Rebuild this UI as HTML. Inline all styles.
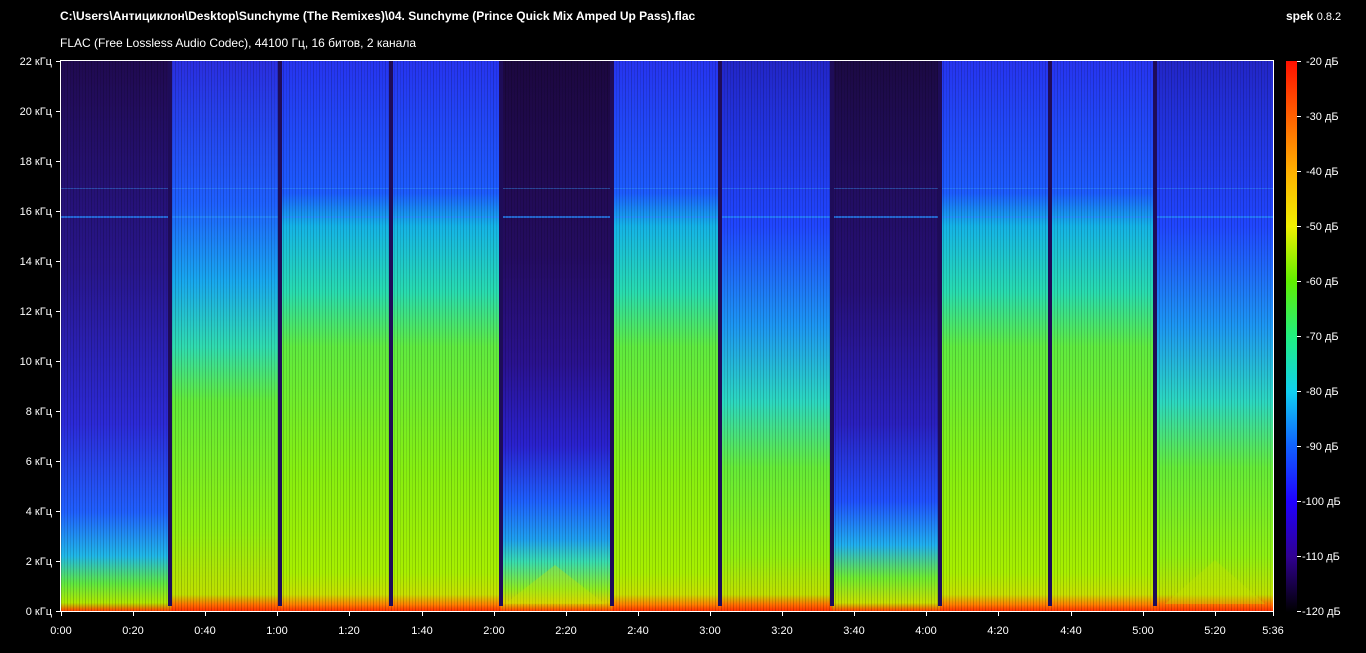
<!DOCTYPE html>
<html><head><meta charset="utf-8"><style>
body{margin:0;width:1366px;height:653px;background:#000;position:relative;overflow:hidden;font-family:"Liberation Sans",sans-serif;color:#fff}
.t{position:absolute;font-size:12px;white-space:nowrap}
.s{position:absolute;top:61px;height:550px}
.L{background:linear-gradient(#2634f0 0%,#1c5cff 24%,#14b4e8 30%,#28dcb0 42%,#60ec40 52%,#88f010 75%,#a8f000 93%,#c8e000 97%,#ff8000 98.8%,#ff3000 100%)}
.M{background:linear-gradient(#2226c8 0%,#2046ff 30%,#1c96f4 48%,#2cd8c0 62%,#66ec38 74%,#90f010 90%,#c0e000 97%,#ff7000 98.8%,#ff3000 100%)}
.Q{background:linear-gradient(#1c0840 0%,#240c60 35%,#2a1290 55%,#2a22d0 70%,#1e60ff 80%,#1ea0f0 87%,#38dcb0 91%,#90ec20 96%,#e0d000 98.5%,#ff4000 100%)}
.Q2{background:linear-gradient(#1c0a44 0%,#261078 42%,#2a20c0 66%,#2050ff 80%,#20b0f0 88%,#70ec30 94%,#c8e000 98.5%,#ff4000 100%)}
.S{background:linear-gradient(#200a50 0%,#28168c 38%,#2c2ad8 66%,#2060ff 82%,#20b8e8 90%,#60e840 95%,#b0e800 98.5%,#ff4000 100%)}
.B{background:linear-gradient(#2a2ee0 0%,#1e60ff 26%,#18a8f0 40%,#30dcb0 52%,#64ec38 62%,#90f010 85%,#c0e000 97%,#ff7000 98.8%,#ff3000 100%)}
.ov{position:absolute;left:61px;top:61px;width:1212px;height:550px;background:repeating-linear-gradient(90deg,rgba(0,0,0,.18) 0 1px,transparent 1px 3px,rgba(0,0,0,.1) 3px 4px,transparent 4px 6px)}
.d{position:absolute;top:61px;height:545px;width:4px;background:#1e0c58}
</style></head><body>
<div class="t" style="left:60px;top:9px;font-weight:bold">C:\Users\Антициклон\Desktop\Sunchyme (The Remixes)\04. Sunchyme (Prince Quick Mix Amped Up Pass).flac</div>
<div class="t" style="left:1286px;top:9px"><b>spek</b> <span style="font-size:11px">0.8.2</span></div>
<div class="t" style="left:60px;top:36px">FLAC (Free Lossless Audio Codec), 44100 Гц, 16 битов, 2 канала</div>

<div class="s S" style="left:61px;width:110px"></div>
<div class="s B" style="left:171px;width:109px"></div>
<div class="s L" style="left:280px;width:111px"></div>
<div class="s L" style="left:391px;width:110px"></div>
<div class="s Q" style="left:501px;width:111px"></div>
<div class="s L" style="left:612px;width:108px"></div>
<div class="s M" style="left:720px;width:112px"></div>
<div class="s Q2" style="left:832px;width:108px"></div>
<div class="s L" style="left:940px;width:110px"></div>
<div class="s L" style="left:1050px;width:105px"></div>
<div class="s M" style="left:1155px;width:118px"></div>
<div style="position:absolute;left:61px;top:216px;width:1212px;height:2px;background:rgba(40,140,255,.7)"></div>
<div style="position:absolute;left:61px;top:188px;width:1212px;height:1px;background:rgba(60,160,255,.4)"></div>
<div class="ov"></div>
<div class="d" style="left:168px"></div><div class="d" style="left:278px"></div><div class="d" style="left:389px"></div><div class="d" style="left:499px"></div><div class="d" style="left:610px"></div><div class="d" style="left:718px"></div><div class="d" style="left:830px"></div><div class="d" style="left:938px"></div><div class="d" style="left:1048px"></div><div class="d" style="left:1153px"></div>

<svg style="position:absolute;left:0;top:0" width="1366" height="653">
<polygon points="505,604 555,565 605,604" fill="rgba(200,230,0,.35)"/>
<polygon points="1165,604 1215,560 1265,604" fill="rgba(200,230,0,.3)"/>
<g stroke="#fff" stroke-width="1" fill="none">
<line x1="60.5" y1="61" x2="60.5" y2="612"/><line x1="60" y1="611.5" x2="1274" y2="611.5"/>
<line x1="1273.5" y1="61" x2="1273.5" y2="612"/><line x1="60" y1="60.5" x2="1274" y2="60.5"/>
</g>
<g stroke="#fff">
<line x1="56" y1="61.5" x2="60" y2="61.5"/><line x1="56" y1="111.5" x2="60" y2="111.5"/><line x1="56" y1="161.5" x2="60" y2="161.5"/><line x1="56" y1="211.5" x2="60" y2="211.5"/><line x1="56" y1="261.5" x2="60" y2="261.5"/><line x1="56" y1="311.5" x2="60" y2="311.5"/><line x1="56" y1="361.5" x2="60" y2="361.5"/><line x1="56" y1="411.5" x2="60" y2="411.5"/><line x1="56" y1="461.5" x2="60" y2="461.5"/><line x1="56" y1="511.5" x2="60" y2="511.5"/><line x1="56" y1="561.5" x2="60" y2="561.5"/><line x1="56" y1="611.5" x2="60" y2="611.5"/>
<line x1="61.5" y1="612" x2="61.5" y2="616"/><line x1="133.5" y1="612" x2="133.5" y2="616"/><line x1="205.5" y1="612" x2="205.5" y2="616"/><line x1="277.5" y1="612" x2="277.5" y2="616"/><line x1="349.5" y1="612" x2="349.5" y2="616"/><line x1="422.5" y1="612" x2="422.5" y2="616"/><line x1="494.5" y1="612" x2="494.5" y2="616"/><line x1="566.5" y1="612" x2="566.5" y2="616"/><line x1="638.5" y1="612" x2="638.5" y2="616"/><line x1="710.5" y1="612" x2="710.5" y2="616"/><line x1="782.5" y1="612" x2="782.5" y2="616"/><line x1="854.5" y1="612" x2="854.5" y2="616"/><line x1="926.5" y1="612" x2="926.5" y2="616"/><line x1="998.5" y1="612" x2="998.5" y2="616"/><line x1="1071.5" y1="612" x2="1071.5" y2="616"/><line x1="1143.5" y1="612" x2="1143.5" y2="616"/><line x1="1215.5" y1="612" x2="1215.5" y2="616"/><line x1="1273.5" y1="612" x2="1273.5" y2="616"/>
</g>
<g fill="#fff" font-family="Liberation Sans" font-size="11" text-anchor="end">
<text x="52" y="65">22 кГц</text><text x="52" y="115">20 кГц</text><text x="52" y="165">18 кГц</text><text x="52" y="215">16 кГц</text><text x="52" y="265">14 кГц</text><text x="52" y="315">12 кГц</text><text x="52" y="365">10 кГц</text><text x="52" y="415">8 кГц</text><text x="52" y="465">6 кГц</text><text x="52" y="515">4 кГц</text><text x="52" y="565">2 кГц</text><text x="52" y="615">0 кГц</text>
</g>
<g fill="#fff" font-family="Liberation Sans" font-size="11" text-anchor="middle">
<text x="61" y="634">0:00</text><text x="133" y="634">0:20</text><text x="205" y="634">0:40</text><text x="277" y="634">1:00</text><text x="349" y="634">1:20</text><text x="422" y="634">1:40</text><text x="494" y="634">2:00</text><text x="566" y="634">2:20</text><text x="638" y="634">2:40</text><text x="710" y="634">3:00</text><text x="782" y="634">3:20</text><text x="854" y="634">3:40</text><text x="926" y="634">4:00</text><text x="998" y="634">4:20</text><text x="1071" y="634">4:40</text><text x="1143" y="634">5:00</text><text x="1215" y="634">5:20</text><text x="1273" y="634">5:36</text>
</g>
<defs><linearGradient id="cb" x1="0" y1="0" x2="0" y2="1">
<stop offset="0" stop-color="#ff1000"/><stop offset="0.1" stop-color="#ff6000"/><stop offset="0.2" stop-color="#ffb000"/><stop offset="0.3" stop-color="#f0f000"/><stop offset="0.4" stop-color="#60f000"/><stop offset="0.5" stop-color="#20f080"/><stop offset="0.6" stop-color="#10d0f0"/><stop offset="0.7" stop-color="#1060ff"/><stop offset="0.8" stop-color="#2000ff"/><stop offset="0.9" stop-color="#300090"/><stop offset="1" stop-color="#000000"/>
</linearGradient></defs>
<rect x="1286" y="61" width="11" height="551" fill="url(#cb)"/>
<g stroke="#fff"><line x1="1297" y1="61.5" x2="1301" y2="61.5"/><line x1="1297" y1="116.5" x2="1301" y2="116.5"/><line x1="1297" y1="171.5" x2="1301" y2="171.5"/><line x1="1297" y1="226.5" x2="1301" y2="226.5"/><line x1="1297" y1="281.5" x2="1301" y2="281.5"/><line x1="1297" y1="336.5" x2="1301" y2="336.5"/><line x1="1297" y1="391.5" x2="1301" y2="391.5"/><line x1="1297" y1="446.5" x2="1301" y2="446.5"/><line x1="1297" y1="501.5" x2="1301" y2="501.5"/><line x1="1297" y1="556.5" x2="1301" y2="556.5"/><line x1="1297" y1="611.5" x2="1301" y2="611.5"/></g>
<g fill="#fff" font-family="Liberation Sans" font-size="11">
<text x="1306" y="65">-20 дБ</text><text x="1306" y="120">-30 дБ</text><text x="1306" y="175">-40 дБ</text><text x="1306" y="230">-50 дБ</text><text x="1306" y="285">-60 дБ</text><text x="1306" y="340">-70 дБ</text><text x="1306" y="395">-80 дБ</text><text x="1306" y="450">-90 дБ</text><text x="1302" y="505">-100 дБ</text><text x="1302" y="560">-110 дБ</text><text x="1302" y="615">-120 дБ</text>
</g>
</svg>
</body></html>
